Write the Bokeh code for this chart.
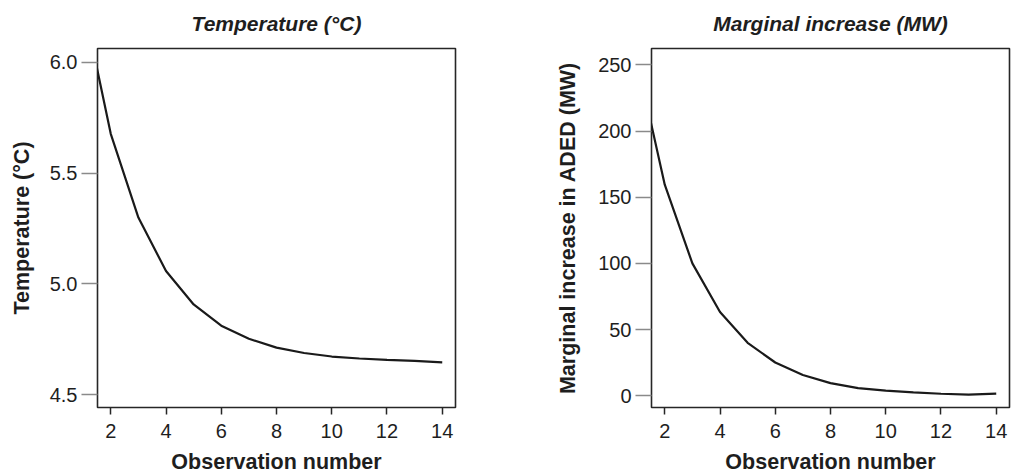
from bokeh.plotting import figure
from bokeh.layouts import row
from bokeh.models import FixedTicker, Range1d, LinearAxis
from bokeh.embed import file_html
from bokeh.resources import INLINE

# ---- data ----
observation = [1, 2, 3, 4, 5, 6, 7, 8, 9, 10, 11, 12, 13, 14]
temperature = [6.27, 5.677, 5.299, 5.058, 4.907, 4.811, 4.752, 4.712, 4.688,
               4.672, 4.663, 4.657, 4.652, 4.646]
marginal_mw = [253, 159.5, 100, 63.3, 40, 25.1, 15.7, 9.5, 5.8, 3.8, 2.5, 1.5, 0.8, 1.6]

x_ticks = [2, 4, 6, 8, 10, 12, 14]
temp_ticks = [4.5, 5.0, 5.5, 6.0]
temp_tick_labels = ["4.5", "5.0", "5.5", "6.0"]
mw_ticks = [0, 50, 100, 150, 200, 250]
mw_tick_labels = ["0", "50", "100", "150", "200", "250"]

FONT = "Liberation Sans"
TXT = "#1e1e1e"


def make_panel(title, ylabel, ys, y_start, y_end, yticks, ylabels, width, mbl, mbr,
               ylabel_standoff):
    p = figure(width=width, height=476,
               x_range=Range1d(1.52, 14.48), y_range=Range1d(y_start, y_end),
               output_backend="svg", toolbar_location=None,
               min_border_left=mbl, min_border_right=mbr,
               min_border_top=48, min_border_bottom=63)
    p.title = None
    p.grid.visible = False
    p.outline_line_color = "#262626"
    p.outline_line_width = 1.6
    p.outline_line_alpha = 1.0

    # panel title, set as the label of a bare axis above the frame
    top = LinearAxis(ticker=FixedTicker(ticks=[]), axis_line_color=None,
                     major_tick_in=0, major_tick_out=0, minor_tick_in=0, minor_tick_out=0,
                     major_label_text_font_size="0px",
                     axis_label=title, axis_label_text_font=FONT,
                     axis_label_text_font_style="bold italic",
                     axis_label_text_font_size="21px", axis_label_text_color=TXT,
                     axis_label_standoff=14)
    p.add_layout(top, "above")

    xa = p.xaxis[0] if p.below else None
    xa = p.below[0]
    xa.ticker = FixedTicker(ticks=x_ticks)
    xa.axis_line_color = None
    xa.major_tick_in = 0
    xa.major_tick_out = 7
    xa.minor_tick_out = 0
    xa.minor_tick_in = 0
    xa.major_tick_line_color = "#262626"
    xa.major_tick_line_width = 1.5
    xa.major_label_standoff = 9
    xa.major_label_text_font = FONT
    xa.major_label_text_font_size = "20px"
    xa.major_label_text_color = TXT
    xa.axis_label = "Observation number"
    xa.axis_label_text_font = FONT
    xa.axis_label_text_font_style = "bold"
    xa.axis_label_text_font_size = "21.5px"
    xa.axis_label_text_color = TXT
    xa.axis_label_standoff = 9

    ya = p.yaxis[0]
    ya.ticker = FixedTicker(ticks=yticks)
    ya.major_label_overrides = {t: l for t, l in zip(yticks, ylabels)}
    ya.axis_line_color = None
    ya.major_tick_in = 0
    ya.major_tick_out = 16
    ya.minor_tick_out = 0
    ya.minor_tick_in = 0
    ya.major_tick_line_color = "#8a8a8a"
    ya.major_tick_line_width = 1.3
    ya.major_label_standoff = 4
    ya.major_label_text_font = FONT
    ya.major_label_text_font_size = "20px"
    ya.major_label_text_color = TXT
    ya.axis_label = ylabel
    ya.axis_label_text_font = FONT
    ya.axis_label_text_font_style = "bold"
    ya.axis_label_text_font_size = "21.5px"
    ya.axis_label_text_color = TXT
    ya.axis_label_standoff = ylabel_standoff

    p.line(observation, ys, line_color="#1a1a1a", line_width=2.2)
    return p


p1 = make_panel("Temperature (°C)", "Temperature (°C)", temperature,
                4.442, 6.062, temp_ticks, temp_tick_labels,
                width=508, mbl=97, mbr=53, ylabel_standoff=13)
p2 = make_panel("Marginal increase (MW)", "Marginal increase in ADED (MW)", marginal_mw,
                -8.9, 262.4, mw_ticks, mw_tick_labels,
                width=507, mbl=143, mbr=6, ylabel_standoff=15)

layout = row(p1, p2)
open("out.html", "w").write(file_html(layout, INLINE))
